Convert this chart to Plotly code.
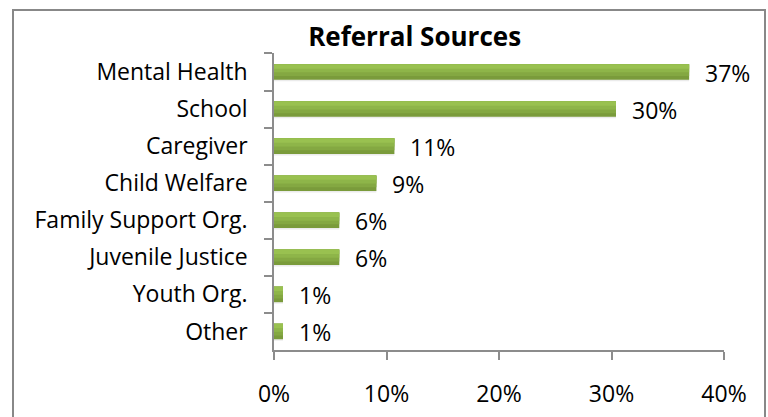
import plotly.graph_objects as go

categories = ["Mental Health", "School", "Caregiver", "Child Welfare",
              "Family Support Org.", "Juvenile Justice", "Youth Org.", "Other"]
values = [36.9, 30.4, 10.7, 9.1, 5.8, 5.8, 0.8, 0.8]
value_labels = ["37%", "30%", "11%", "9%", "6%", "6%", "1%", "1%"]
x_ticks = [0, 10, 20, 30, 40]
x_tick_labels = ["0%", "10%", "20%", "30%", "40%"]

FONT = "Open Sans"
AXIS_COLOR = "#8c8c8c"

fig = go.Figure()
# soft shadow
fig.add_trace(go.Bar(x=values, y=categories, orientation="h", width=0.42, offset=-0.17,
                     marker=dict(color="rgba(0,0,0,0.08)", line=dict(width=0)),
                     hoverinfo="skip", showlegend=False))
# gradient layers (dark bottom -> light top)
layers = [(0.42, "#7a9b3b"), (0.32, "#84a842"), (0.22, "#8eb549"), (0.12, "#99c150")]
for w, col in layers:
    fig.add_trace(go.Bar(x=values, y=categories, orientation="h", width=w, offset=-0.21,
                         marker=dict(color=col, line=dict(width=0)),
                         hoverinfo="skip", showlegend=False))

annotations = []
for c, v, t in zip(categories, values, value_labels):
    annotations.append(dict(x=v, y=c, xref="x", yref="y", text=t, showarrow=False,
                            xanchor="left", xshift=14, yshift=-1,
                            font=dict(family=FONT, size=23, color="#000000")))

fig.update_layout(
    width=768, height=417,
    margin=dict(l=274, r=44, t=53, b=67, autoexpand=False),
    paper_bgcolor="white", plot_bgcolor="white",
    barmode="overlay",
    title=dict(text="<b>Referral Sources</b>", x=0.3125, xref="paper", xanchor="center",
               y=1 - 37 / 417, yanchor="middle",
               font=dict(family=FONT, size=26, color="#000000")),
    annotations=annotations,
    shapes=[dict(type="rect", xref="paper", yref="paper",
                 x0=(13 - 274) / 450, x1=(765 - 274) / 450,
                 y0=-0.3, y1=(350 - 10) / 297,
                 line=dict(color="#888888", width=2), fillcolor="rgba(0,0,0,0)",
                 layer="below")],
    xaxis=dict(range=[0, 40], tickvals=x_ticks, ticktext=x_tick_labels,
               showgrid=False, zeroline=False, showline=True, linecolor=AXIS_COLOR,
               linewidth=1.5, ticks="outside", ticklen=8, tickcolor=AXIS_COLOR,
               tickwidth=1.5, ticklabelstandoff=15, automargin=False,
               tickfont=dict(family=FONT, size=23, color="#000000")),
    yaxis=dict(autorange="reversed", showgrid=False, zeroline=False, showline=True,
               linecolor=AXIS_COLOR, linewidth=1.5, ticks="outside", ticklen=8,
               tickcolor=AXIS_COLOR, tickwidth=1.5, tickson="boundaries",
               ticklabelstandoff=20, automargin=False,
               tickfont=dict(family=FONT, size=23, color="#000000")),
)

fig.write_html("out.html")
